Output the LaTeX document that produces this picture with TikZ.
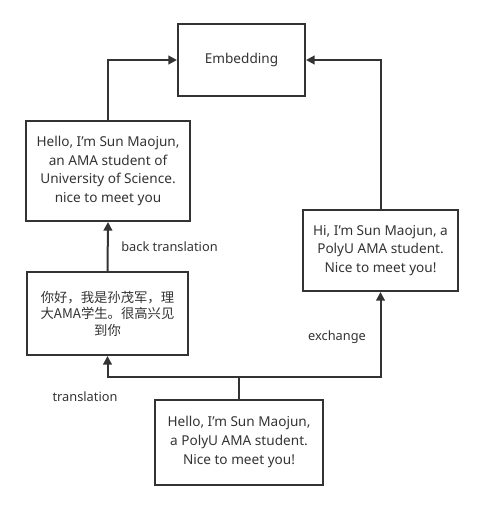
\documentclass[tikz,border=0pt]{standalone}
\usepackage{fontspec}
\setmainfont{Noto Sans}
\newfontfamily\cjk{Noto Sans CJK SC}
\usepackage{tikz}
\usetikzlibrary{arrows.meta,positioning,calc}

\begin{document}
\begin{tikzpicture}[
  x=0.75pt,
  y=-0.75pt,
  box/.style={draw=black!80, line width=1.5pt, align=center, text=black!80,
    font=\fontsize{10.2}{14}\selectfont, inner sep=0pt},
  flow/.style={-{Triangle[length=6.5pt, width=6.5pt]}, draw=black!80, line width=1.5pt},
  tag/.style={text=black!80, font=\fontsize{9.6}{11}\selectfont}
]
  \useasboundingbox (0,0) rectangle (482,510);
  % boxes
  \node[box, minimum width=95.25pt, minimum height=54pt] (emb) at (241.5,60) {Embedding};
  \node[box, minimum width=123pt, minimum height=75pt] (en) at (108,171)
    {Hello, I'm Sun Maojun,\\an AMA student of\\University of Science.\\nice to meet you};
  \node[box, minimum width=120.75pt, minimum height=62.25pt, font=\cjk\fontsize{10}{12.4}\selectfont] (zh) at (107.5,313.5)
    {你好，我是孙茂军，理\\大AMA学生。很高兴见\\到你};
  \node[box, minimum width=116.25pt, minimum height=60.75pt] (hi) at (380.5,250.5)
    {Hi, I'm Sun Maojun, a\\PolyU AMA student.\\Nice to meet you!};
  \node[box, minimum width=126pt, minimum height=63.75pt] (src) at (239,442)
    {Hello, I'm Sun Maojun,\\a PolyU AMA student.\\Nice to meet you!};
  % split point above the source box
  \coordinate (split) at (src.north |- 0,377);
  % connectors
  \draw[draw=black!80, line width=1.5pt] (src.north) -- (split);
  \draw[flow] (split) -| (zh.south);
  \draw[flow] (split) -| (hi.south);
  \draw[flow] (zh.north) -- (en.south);
  \draw[flow] (en.north) |- (emb.west);
  \draw[flow] (hi.north) |- (emb.east);
  % labels
  \node[tag] (lbt) at (169.5,247) {back translation};
  \node[tag] (lex) at (337,337) {exchange};
  \node[tag] (ltr) at (85,397) {translation};
\end{tikzpicture}
\end{document}
